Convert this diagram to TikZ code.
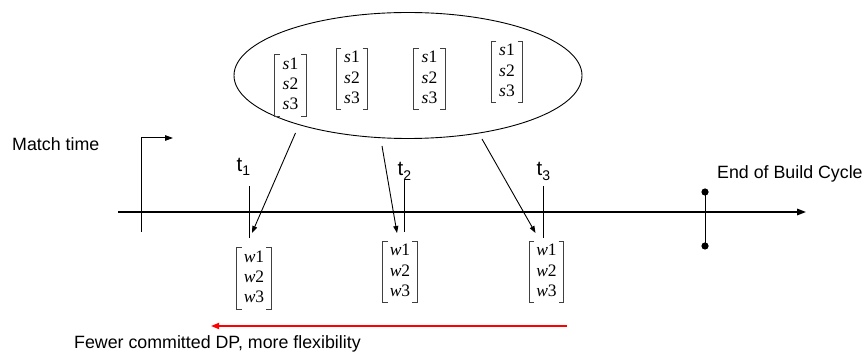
\documentclass[tikz,border=0pt]{standalone}
\usepackage{fontspec}
\setmainfont{Liberation Sans}
\newfontfamily\mserif{Liberation Serif}
\usetikzlibrary{arrows.meta,shapes.geometric}
\tikzset{
  lbl/.style={font=\fontsize{17.8}{21}\selectfont, inner sep=0},
  tlbl/.style={font=\fontsize{20.5}{22}\selectfont, inner sep=0, anchor=base west},
  vecbox/.style={inner xsep=0, inner ysep=0, font=\mserif\fontsize{17.5}{20.3}\selectfont},
  brk/.style={line width=0.9pt, draw=black!75},
  tick/.style={line width=1pt},
  conn/.style={line width=0.9pt, -{Triangle[length=7pt,width=5pt]}},
}
\newcommand\bvec[4]{%
  \node[vecbox, minimum width=#4] (#1) at (#2) {\begin{tabular}{@{}c@{}}\textit{#3}1\\\textit{#3}2\\\textit{#3}3\end{tabular}};
  \draw[brk] ([xshift=5pt]#1.north west) -- (#1.north west) -- (#1.south west) -- ([xshift=5pt]#1.south west);
  \draw[brk] ([xshift=-5pt]#1.north east) -- (#1.north east) -- (#1.south east) -- ([xshift=-5pt]#1.south east);}
\newcommand\tsub[1]{t\raisebox{-4.5pt}{\fontsize{14}{15}\selectfont #1}}
\begin{document}
\begin{tikzpicture}[x=1pt,y=-1pt]
\useasboundingbox (0,0) rectangle (863,352);
% pool ellipse
\node[ellipse, draw, line width=0.9pt, minimum width=348pt, minimum height=126pt, inner sep=0] (pool) at (408,75.5) {};
\bvec{s1}{290.5,85.5}{s}{31pt}
\bvec{s2}{352,79}{s}{31pt}
\bvec{s3}{429.5,79}{s}{31pt}
\bvec{s4}{507,72}{s}{31pt}
% timeline
\coordinate (tl0) at (118,212);
\coordinate (tl1) at (806,212);
\draw[line width=1.6pt, -{Triangle[length=9pt,width=6.5pt]}] (tl0) -- (tl1);
% match time
\node[lbl, anchor=west] (mt) at (12,144) {Match time};
\coordinate (mt0) at (141.7,232);
\coordinate (mt1) at (141.7,138);
\coordinate (mt2) at (173,138);
\draw[tick, -{Triangle[length=8pt,width=5.5pt]}] (mt0) -- (mt1) -- (mt2);
% ticks
\coordinate (k1a) at (249.3,186); \coordinate (k1b) at (249.3,238);
\coordinate (k2a) at (404,179);   \coordinate (k2b) at (404,232);
\coordinate (k3a) at (543,186);   \coordinate (k3b) at (543,238);
\draw[tick] (k1a) -- (k1b);
\draw[tick] (k2a) -- (k2b);
\draw[tick] (k3a) -- (k3b);
\node[tlbl] (t1) at (236.5,171.5) {\tsub{1}};
\node[tlbl] (t2) at (397.5,176) {\tsub{2}};
\node[tlbl] (t3) at (536.5,176) {\tsub{3}};
% end of build cycle
\coordinate (e1) at (705,192);
\coordinate (e2) at (705,246);
\draw[tick] (e1) -- (e2);
\fill (e1) circle (3.6pt);
\fill (e2) circle (3.6pt);
\node[lbl, anchor=base west] (eob) at (717,179) {End of Build Cycle};
% w vectors
\bvec{w1}{254,278.5}{w}{34pt}
\bvec{w2}{400,272}{w}{34pt}
\bvec{w3}{546.5,272}{w}{34pt}
% arrows from pool
\coordinate (a1s) at (295.5,133); \coordinate (a1e) at (252,233);
\coordinate (a2s) at (382,146);   \coordinate (a2e) at (397,233);
\coordinate (a3s) at (482,139);   \coordinate (a3e) at (535.5,233);
\draw[conn] (a1s) -- (a1e);
\draw[conn] (a2s) -- (a2e);
\draw[conn] (a3s) -- (a3e);
% red arrow
\coordinate (r0) at (567,326);
\coordinate (r1) at (211,326);
\draw[red, line width=1.7pt, -{Triangle[length=8pt,width=6pt]}] (r0) -- (r1);
\node[lbl, anchor=base west] (few) at (74,349) {Fewer committed DP, more flexibility};
\end{tikzpicture}
\end{document}
